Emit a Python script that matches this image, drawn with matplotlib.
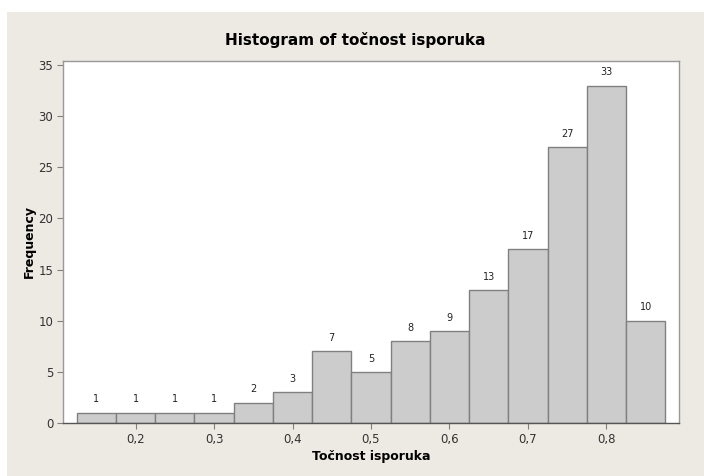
import matplotlib
matplotlib.use("Agg")
import matplotlib.pyplot as plt
from matplotlib.patches import Rectangle

# histogram data
bin_left = [0.125, 0.175, 0.225, 0.275, 0.325, 0.375, 0.425, 0.475,
            0.525, 0.575, 0.625, 0.675, 0.725, 0.775, 0.825]
counts = [1, 1, 1, 1, 2, 3, 7, 5, 8, 9, 13, 17, 27, 33, 10]
bin_w = 0.05
xticks = [0.2, 0.3, 0.4, 0.5, 0.6, 0.7, 0.8]
xtick_labels = ["0,2", "0,3", "0,4", "0,5", "0,6", "0,7", "0,8"]
yticks = [0, 5, 10, 15, 20, 25, 30, 35]

bg = "#ede9e3"
plt.rcParams['font.family'] = ['DejaVu Sans']

fig = plt.figure(figsize=(7.04, 4.76), dpi=100)
fig.patch.set_facecolor("white")
fig.patches.append(Rectangle((7 / 704, 0), 1, (476 - 12) / 476,
                             transform=fig.transFigure, facecolor=bg,
                             edgecolor="none", zorder=-10))

ax = fig.add_axes([63 / 704, 53 / 476, 616 / 704, 362 / 476])
ax.set_facecolor("white")
ax.bar(bin_left, counts, width=bin_w, align="edge", color="#cccccc",
       edgecolor="#808080", linewidth=1.0)

for x, c in zip(bin_left, counts):
    ax.annotate(str(c), (x + bin_w / 2, c), xytext=(0, 6),
                textcoords="offset points", ha="center", va="bottom",
                fontsize=7, color="#222222")

ax.set_xlim(0.1075, 0.8925)
ax.set_ylim(0, 35.4)
ax.set_xticks(xticks)
ax.set_xticklabels(xtick_labels)
ax.set_yticks(yticks)
ax.tick_params(axis="both", length=4, width=0.8, color="#808080",
               labelsize=8.5, labelcolor="#333333", pad=3)
for s in ax.spines.values():
    s.set_color("#999999")
    s.set_linewidth(1.0)
ax.spines["bottom"].set_color("#555555")

ax.set_xlabel("Točnost isporuka", fontsize=9, fontweight="bold", labelpad=3)
ax.set_ylabel("Frequency", fontsize=9, fontweight="bold", labelpad=2)
fig.text(0.505, 1 - 40 / 476, "Histogram of točnost isporuka", ha="center",
         va="center", fontsize=11, fontweight="bold")

fig.savefig("out.png", dpi=100, facecolor=fig.get_facecolor())
